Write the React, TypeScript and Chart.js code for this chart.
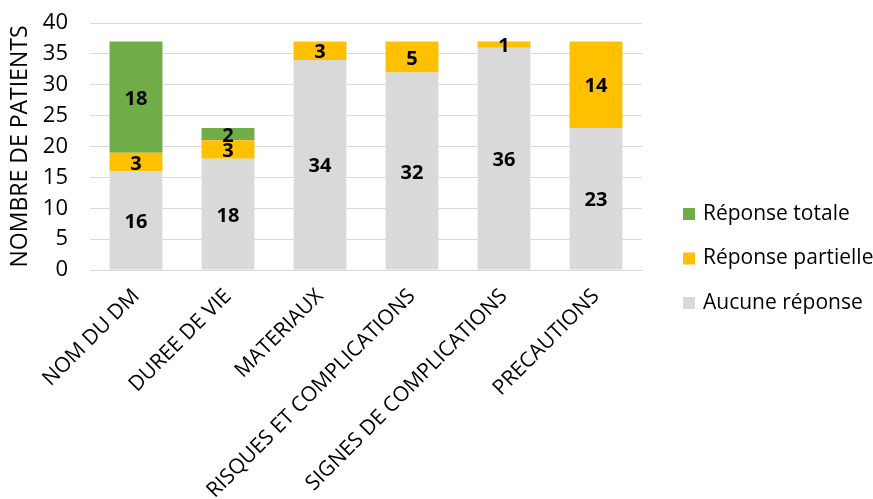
import React, { useEffect, useRef } from "react";
import { Chart, registerables } from "chart.js";

Chart.register(...registerables);

const categories = [
  "NOM DU DM",
  "DUREE DE VIE",
  "MATERIAUX",
  "RISQUES ET COMPLICATIONS",
  "SIGNES DE COMPLICATIONS",
  "PRECAUTIONS",
];
const aucune = [16, 18, 34, 32, 36, 23];
const partielle = [3, 3, 3, 5, 1, 14];
const totale = [18, 2, 0, 0, 0, 0];
const yTicks = [0, 5, 10, 15, 20, 25, 30, 35, 40];

const FONT = "'Open Sans', 'DejaVu Sans', sans-serif";

const dataLabels = {
  id: "dataLabels",
  afterDatasetsDraw(chart: any) {
    const ctx = chart.ctx;
    ctx.save();
    ctx.font = `bold 20px ${FONT}`;
    ctx.fillStyle = "#000";
    ctx.textAlign = "center";
    ctx.textBaseline = "middle";
    chart.data.datasets.forEach((ds: any, i: number) => {
      const meta = chart.getDatasetMeta(i);
      meta.data.forEach((el: any, j: number) => {
        const v = ds.data[j];
        if (!v) return;
        ctx.fillText(String(v), el.x, (el.y + el.base) / 2 + 2);
      });
    });
    ctx.restore();
  },
};

const customLegend = {
  id: "customLegend",
  afterDraw(chart: any) {
    const ctx = chart.ctx;
    ctx.save();
    ctx.font = `21px ${FONT}`;
    ctx.textBaseline = "middle";
    ctx.textAlign = "left";
    const order = [2, 1, 0];
    const x = 683;
    const ys = [214, 258.5, 303];
    order.forEach((di, k) => {
      const ds = chart.data.datasets[di];
      ctx.fillStyle = ds.backgroundColor;
      ctx.fillRect(x, ys[k] - 6, 12, 12);
      ctx.fillStyle = "#000";
      ctx.fillText(ds.label, x + 20, ys[k]);
    });
    ctx.restore();
  },
};

export default function App() {
  const ref = useRef<HTMLCanvasElement>(null);
  useEffect(() => {
    if (!ref.current) return;
    const chart = new Chart(ref.current, {
      type: "bar",
      data: {
        labels: categories,
        datasets: [
          { label: "Aucune réponse", data: aucune, backgroundColor: "#d9d9d9" },
          { label: "Réponse partielle", data: partielle, backgroundColor: "#ffc000" },
          { label: "Réponse totale", data: totale, backgroundColor: "#70ad47" },
        ],
      },
      options: {
        responsive: false,
        animation: false,
        layout: { padding: { left: 0, top: 23, right: 231, bottom: 0 } },
        datasets: {
          bar: { categoryPercentage: 1, barPercentage: 0.575 },
        } as any,
        plugins: {
          legend: { display: false },
          tooltip: { enabled: false },
        },
        scales: {
          x: {
            stacked: true,
            grid: { display: false, drawTicks: false },
            border: { display: true, color: "#d9d9d9" },
            ticks: {
              maxRotation: 45,
              minRotation: 45,
              autoSkip: false,
              padding: 14,
              color: "#000",
              font: { family: FONT, size: 21 },
            },
            afterFit(scale: any) {
              scale.height = 229;
              scale.paddingLeft = 0;
              scale.paddingRight = 0;
            },
          },
          y: {
            stacked: true,
            min: 0,
            max: 40,
            afterBuildTicks(scale: any) {
              scale.ticks = yTicks.map((v) => ({ value: v }));
            },
            grid: { color: "#d9d9d9", drawTicks: false, lineWidth: 1 },
            border: { display: false },
            ticks: {
              autoSkip: false,
              padding: 22,
              color: "#000",
              font: { family: FONT, size: 22 },
            },
            title: {
              display: true,
              text: "NOMBRE DE PATIENTS",
              color: "#000",
              font: { family: FONT, size: 23 },
              padding: { top: 7, bottom: 0 },
            },
            afterFit(scale: any) {
              scale.width = 90;
              scale.paddingTop = 0;
              scale.paddingBottom = 0;
            },
          },
        },
      },
      plugins: [dataLabels, customLegend],
    });
    return () => chart.destroy();
  }, []);
  return (
    <div style={{ position: "fixed", left: 0, top: 0, width: 873, height: 499, background: "#fff" }}>
      <canvas ref={ref} width={873} height={499} />
    </div>
  );
}
